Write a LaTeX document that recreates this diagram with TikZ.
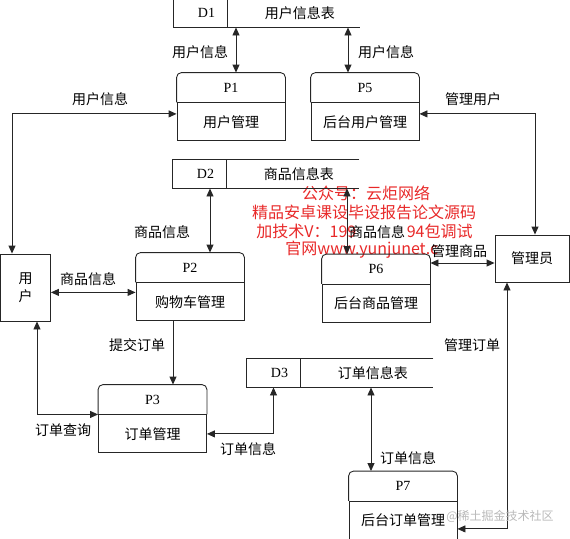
\documentclass[tikz,border=0pt]{standalone}
\usepackage{fontspec}
\setmainfont{Liberation Serif}
\newfontfamily\zh{Noto Sans CJK SC}
\usetikzlibrary{arrows.meta,positioning}
\definecolor{wmred}{RGB}{232,40,40}
\definecolor{wmgray}{RGB}{185,185,185}

\begin{document}
\begin{tikzpicture}[x=1pt, y=-1pt, line width=0.9pt, color=black!85, >={Triangle[length=8pt,width=7pt]},
    every node/.style={font=\zh\fontsize{14}{18}\selectfont, inner sep=0pt, text=black},
    phead/.style={minimum width=108pt, minimum height=29pt, font=\rmfamily\fontsize{14}{16}\selectfont},
    pbody/.style={draw, minimum width=108pt, minimum height=38pt, below=0pt of #1},
    sid/.style={minimum width=53pt, minimum height=28pt, font=\rmfamily\fontsize{14}{16}\selectfont, execute at begin node=\hspace*{12pt}},
    sname/.style={minimum width=132pt, minimum height=28pt, execute at begin node=\hspace*{12pt}},
    ent/.style={draw},
    wm/.style={font=\zh\fontsize{16}{18}\selectfont, text=wmred}]
    \useasboundingbox (0,0) rectangle (570,538);

    \node[wm] (w1) at (366,193) {公众号：云炬网络};
    \node[wm] (w2) at (364,212) {精品安卓课设毕设报告论文源码};
    \node[wm, anchor=west] (w3) at (256,231) {加技术V：199};
    \node[wm, anchor=east] (w4) at (473,231) {94包调试};
    \node[wm, anchor=west] (w5) at (285,250) {官网www.yunjunet.c};

    \node[phead] (p1h) at (231,87.5) {P1};
    \node[pbody=p1h] (p1) {用户管理};
    \node[phead] (p5h) at (365,87.5) {P5};
    \node[pbody=p5h] (p5) {后台用户管理};
    \node[phead] (p2h) at (190,267.5) {P2};
    \node[pbody=p2h] (p2) {购物车管理};
    \node[phead] (p6h) at (376,269) {P6};
    \node[pbody=p6h] (p6) {后台商品管理};
    \node[phead] (p3h) at (152.5,399.5) {P3};
    \node[pbody=p3h] (p3) {订单管理};
    \node[phead] (p7h) at (403,486) {P7};
    \node[pbody=p7h] (p7) {后台订单管理};

    \node[sid] (d1) at (200.5,13) {D1};
    \node[sname, right=0pt of d1] (d1t) {用户信息表};
    \node[sid] (d2) at (199.5,174) {D2};
    \node[sname, right=0pt of d2] (d2t) {商品信息表};
    \node[sid] (d3) at (273.5,373) {D3};
    \node[sname, right=0pt of d3] (d3t) {订单信息表};

    \node[ent, minimum width=50pt, minimum height=67pt, align=center] (user) at (25.5,287.5) {用\\户};
    \node[ent, minimum width=74pt, minimum height=47pt] (admin) at (532,258.5) {管理员};

    \foreach \i in {1,5,2,6,3,7}
        \draw[rounded corners=5pt] (p\i h.south west) |- (p\i h.north) -| (p\i h.south east);
    \foreach \i in {1,2,3}
        \draw (d\i t.north east) -- (d\i.north west) -- (d\i.south west) -- (d\i t.south east)
              (d\i.north east) -- (d\i.south east);

    \draw[<->] ([xshift=5pt]p1h.north) -- ([xshift=5pt]p1h.north |- d1.south);
    \draw[<->] ([xshift=-17pt]p5h.north) -- ([xshift=-17pt]p5h.north |- d1t.south);
    \draw[<->] ([xshift=-13.5pt]user.north) |- ([yshift=8pt]p1.west);
    \draw[<->] ([xshift=3pt]admin.north) |- ([yshift=8pt]p5.east);
    \draw[<->] ([xshift=20pt]p2h.north) -- ([xshift=20pt]p2h.north |- d2.south);
    \draw[<->] ([xshift=-29pt]p6h.north) -- ([xshift=-29pt]p6h.north |- d2t.south);
    \draw[<->] ([yshift=9.5pt]p2.west) -- ([yshift=9.5pt]p2.west -| user.east);
    \draw[<->] ([yshift=6pt]p6h.east) -- ([yshift=6pt]p6h.east -| admin.west);
    \draw[->] ([xshift=-17pt]p2.south) -- ([xshift=-17pt]p2.south |- p3h.north);
    \draw[<->] ([xshift=11.5pt]user.south) |- (p3h.south west);
    \draw[<->] (p3.east) -| (d3.south);
    \draw[<->] ([xshift=-32pt]p7h.north) -- ([xshift=-32pt]p7h.north |- d3t.south);
    \draw[<->] ([xshift=-25pt]admin.south) |- ([yshift=-8.5pt]p7.east);

    \node (l1) at (200,52) {用户信息};
    \node (l2) at (386,52) {用户信息};
    \node (l3) at (100,99) {用户信息};
    \node (l4) at (473,99) {管理用户};
    \node (l5) at (162,232) {商品信息};
    \node (l6) at (88,279) {商品信息};
    \node (l7) at (377,232) {商品信息};
    \node (l8) at (459,251) {管理商品};
    \node (l9) at (137,345) {提交订单};
    \node (l10) at (63,430) {订单查询};
    \node (l11) at (248,449) {订单信息};
    \node (l12) at (408,458) {订单信息};
    \node (l13) at (472,345) {管理订单};

    \node[font=\zh\fontsize{12}{14}\selectfont, text=wmgray] (w6) at (500,516) {@稀土掘金技术社区};
\end{tikzpicture}
\end{document}
